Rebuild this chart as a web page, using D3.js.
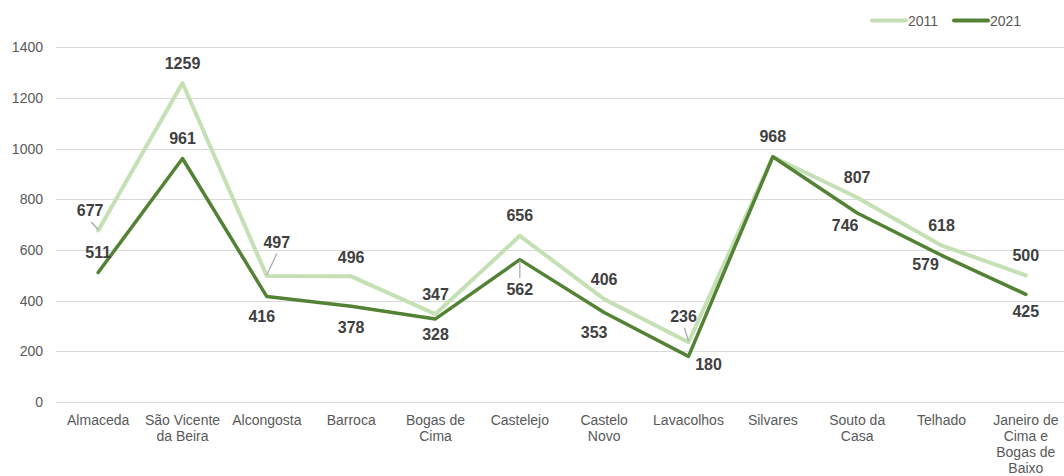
<!DOCTYPE html>
<html>
<head>
<meta charset="utf-8">
<script src="https://cdn.jsdelivr.net/npm/d3@7"></script>
<style>
  html, body { margin: 0; padding: 0; background: #ffffff; }
  svg { display: block; font-family: "Liberation Sans", Arial, sans-serif; }
</style>
</head>
<body>
<svg id="chart" width="1064" height="476"></svg>
<script>
// ---- data ----
const categories = ["Almaceda", "São Vicente da Beira", "Alcongosta", "Barroca", "Bogas de Cima",
  "Castelejo", "Castelo Novo", "Lavacolhos", "Silvares", "Souto da Casa", "Telhado",
  "Janeiro de Cima e Bogas de Baixo"];
const categoryLines = [["Almaceda"], ["São Vicente", "da Beira"], ["Alcongosta"], ["Barroca"],
  ["Bogas de", "Cima"], ["Castelejo"], ["Castelo", "Novo"], ["Lavacolhos"], ["Silvares"],
  ["Souto da", "Casa"], ["Telhado"], ["Janeiro de", "Cima e", "Bogas de", "Baixo"]];
const values2011 = [677, 1259, 497, 496, 347, 656, 406, 236, 968, 807, 618, 500];
const values2021 = [511, 961, 416, 378, 328, 562, 353, 180, 968, 746, 579, 425];
const seriesNames = ["2011", "2021"];
const yTicks = [0, 200, 400, 600, 800, 1000, 1200, 1400];

// ---- label layout (offsets of label centre from point; leader flag) ----
const labelLayout2011 = [[-8,-20,true],[0,-20,false],[10,-34,true],[0,-19,false],[0,-20,false],[0,-20,false],
  [0,-20,false],[-5,-26,true],[0,-20,false],[0,-20,false],[0,-20,false],[0,-20,false]];
const labelLayout2021 = [[0,-20,false],[0,-20,false],[-5,20,false],[0,21,false],[0,16,false],[0,30,true],
  [-10,20,false],[20,8,false],null,[-12,13,false],[-16,9,false],[0,17,false]];

const colors = ["#c5e0b4", "#548235"];
const svg = d3.select("#chart");

const x = d3.scalePoint().domain(categories).range([56, 1068]).padding(0.5);
const y = d3.scaleLinear().domain([0, 1400]).range([402, 47.3]);

// gridlines
svg.append("g").selectAll("line").data(yTicks).join("line")
  .attr("x1", 56).attr("x2", 1064)
  .attr("y1", d => Math.round(y(d)) + 0.5).attr("y2", d => Math.round(y(d)) + 0.5)
  .attr("stroke", "#d9d9d9").attr("stroke-width", 1);

// y axis labels
const yAxis = d3.axisLeft(y).tickValues(yTicks).tickFormat(d3.format("d")).tickSize(0).tickPadding(0);
const yg = svg.append("g").attr("transform", "translate(43,0)").call(yAxis);
yg.select(".domain").remove();
yg.selectAll("text").attr("font-size", 14).attr("fill", "#595959")
  .attr("font-family", "Liberation Sans, Arial, sans-serif");

// x axis labels
const xg = svg.append("g");
categories.forEach((c, i) => {
  const t = xg.append("text").attr("x", x(c)).attr("text-anchor", "middle")
    .attr("font-size", 14).attr("fill", "#595959");
  categoryLines[i].forEach((ln, j) => {
    t.append("tspan").attr("x", x(c)).attr("y", 420 + j * 16).attr("dominant-baseline", "central").text(ln);
  });
});

// lines
const line = d3.line().x((d, i) => x(categories[i])).y(d => y(d));
[values2011, values2021].forEach((vals, s) => {
  svg.append("path").datum(vals).attr("d", line)
    .attr("fill", "none").attr("stroke", colors[s])
    .attr("stroke-width", s === 0 ? 4 : 3.5)
    .attr("stroke-linejoin", "round").attr("stroke-linecap", "round");
});

// data labels
[[values2011, labelLayout2011], [values2021, labelLayout2021]].forEach(([vals, layout]) => {
  vals.forEach((v, i) => {
    const L = layout[i];
    if (!L) return;
    const px = x(categories[i]), py = y(v);
    const lx = px + L[0], ly = py + L[1];
    if (L[2]) {
      const sgn = L[1] < 0 ? 1 : -1;
      svg.append("line").attr("x1", lx + (L[0] < 0 ? 1 : 0)).attr("y1", ly + sgn * 11.5)
        .attr("x2", px).attr("y2", py - sgn * 1)
        .attr("stroke", "#a6a6a6").attr("stroke-width", 1.2);
    }
    svg.append("text").attr("x", lx).attr("y", ly).attr("text-anchor", "middle")
      .attr("dominant-baseline", "central").attr("font-size", 16).attr("font-weight", "bold")
      .attr("fill", "#404040").text(v);
  });
});

// legend
const legendX = [872, 954];
seriesNames.forEach((n, s) => {
  const g = svg.append("g");
  g.append("line").attr("x1", legendX[s]).attr("x2", legendX[s] + 34)
    .attr("y1", 20.5).attr("y2", 20.5).attr("stroke", colors[s]).attr("stroke-width", 4)
    .attr("stroke-linecap", "round");
  g.append("text").attr("x", legendX[s] + 36).attr("y", 21).attr("dominant-baseline", "central")
    .attr("font-size", 14).attr("fill", "#595959").text(n);
});
</script>
</body>
</html>
